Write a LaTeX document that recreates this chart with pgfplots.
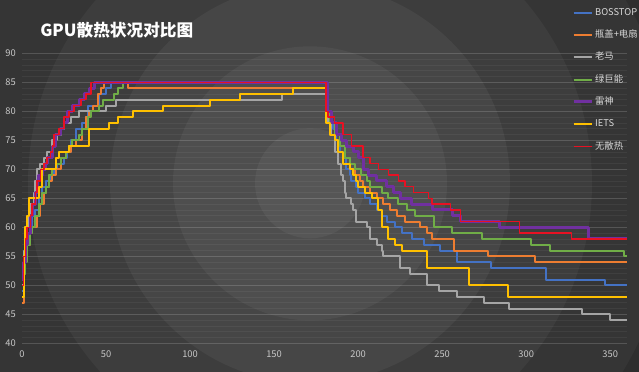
\documentclass[border=0pt]{standalone}
\usepackage{fontspec}
\setmainfont{Noto Sans CJK SC}
\usepackage{pgfplots}
\pgfplotsset{compat=1.18}
\definecolor{cBlue}{HTML}{4472C4}
\definecolor{cOrange}{HTML}{ED7D31}
\definecolor{cGray}{HTML}{A5A5A5}
\definecolor{cGreen}{HTML}{70AD47}
\definecolor{cPurple}{HTML}{7030A0}
\definecolor{cYellow}{HTML}{FFC000}
\definecolor{cRed}{HTML}{E81123}
\definecolor{tick}{HTML}{C8C8C8}
\definecolor{legtxt}{HTML}{D9D9D9}
\begin{document}
\begin{tikzpicture}
% background with concentric rings
\begin{scope}
\clip (-16.5pt,-20.8pt) rectangle (462.75pt,257.5pt);
\fill[fill={rgb,255:red,40;green,40;blue,40}] (-16.5pt,-20.8pt) rectangle (462.75pt,257.5pt);
\fill[fill={rgb,255:red,46;green,46;blue,46}] (216pt,120pt) circle (337.5pt);
\fill[fill={rgb,255:red,53;green,53;blue,53}] (216pt,120pt) circle (273.75pt);
\fill[fill={rgb,255:red,61;green,61;blue,61}] (216pt,120pt) circle (211.5pt);
\fill[fill={rgb,255:red,70;green,70;blue,70}] (216pt,120pt) circle (150pt);
\fill[fill={rgb,255:red,78;green,78;blue,78}] (216pt,120pt) circle (102.75pt);
\fill[fill={rgb,255:red,86;green,86;blue,86}] (216pt,120pt) circle (41.25pt);
\end{scope}
\node[anchor=west, inner sep=0pt, text=white, font=\fontsize{12.5}{14}\selectfont\bfseries] at (13.5pt,235pt) {GPU散热状况对比图};
\begin{axis}[
  at={(0pt,0pt)}, anchor=south west,
  scale only axis, width=453.75pt, height=217.5pt,
  xmin=0, xmax=360, ymin=40, ymax=90,
  axis line style={draw=none},
  tick style={draw=none},
  xtick={0,50,...,350}, ytick={40,45,...,90},
  ymajorgrids, major grid style={white, opacity=0.16, line width=0.6pt},
  minor y tick num=4, yminorgrids, minor grid style={white, opacity=0.05, line width=0.5pt},
  /pgf/number format/assume math mode=true,
  ticklabel style={font=\fontsize{7}{8}\selectfont, text=tick, inner sep=0pt},
  yticklabel style={xshift=-4.5pt},
  xticklabel style={yshift=-5pt},
  const plot,
  every axis plot/.append style={line width=1.5pt, line join=round},
  legend image code/.code={\draw[#1] (0pt,0pt) -- (13.5pt,0pt);},
  legend cell align=left,
  legend style={at={(0.909,1.1575)}, anchor=north west, draw=none, fill=none,
    font=\fontsize{7}{8}\selectfont, text=legtxt, inner sep=0pt,
    row sep=9.75pt, column sep=1.5pt,
    nodes={inner sep=0pt, text height=5.5pt, text depth=1.5pt}},
]
\addplot[cBlue] coordinates {(0,49)(1,54)(2,56)(3,58)(5,60)(6,62)(8,63)(10,65)(12,67)(14,68)(17,69)(19,70)(21,71)(25,72)(27,73)(29,75)(32,77)(36,78)(38,79)(39,81)(46,83)(50,84)(53,85)(180,85)(181,80)(183,78)(185,77)(187,75)(189,73)(191,72)(193,70)(195,69)(196,68)(199,67)(200,66)(204,65)(207,64)(211,63)(214,62)(217,61)(222,60)(226,59)(232,58)(239,57)(249,56)(259,54)(279,53)(312,51)(347,50)(360,50)};
\addlegendentry{BOSSTOP}
\addplot[cOrange] coordinates {(0,47)(1,52)(2,55)(3,57)(5,59)(6,60)(9,62)(11,64)(13,66)(14,67)(16,68)(18,69)(20,70)(23,72)(26,73)(29,74)(32,75)(36,77)(38,79)(40,80)(42,81)(45,83)(47,84)(49,85)(63,84)(180,84)(181,80)(183,78)(186,76)(189,74)(192,72)(195,70)(198,69)(201,68)(203,67)(207,66)(211,65)(215,64)(219,63)(223,62)(228,61)(237,60)(241,59)(244,58)(257,56)(277,55)(305,54)(360,54)};
\addlegendentry{瓶盖+电扇}
\addplot[cGray] coordinates {(0,50)(1,56)(2,58)(3,60)(4,62)(5,64)(7,66)(8,68)(9,70)(11,71)(13,72)(15,73)(18,75)(21,76)(23,77)(25,78)(29,79)(34,80)(50,81)(56,82)(155,83)(180,83)(181,80)(182,78)(184,76)(186,73)(188,71)(190,69)(191,68)(192,66)(193,65)(196,64)(197,63)(199,61)(205,60)(207,58)(211,57)(214,56)(215,55)(225,53)(231,52)(241,50)(248,49)(259,48)(275,47)(290,46)(333,45)(350,44)(360,44)};
\addlegendentry{老马}
\addplot[cGreen] coordinates {(0,48)(1,52)(2,54)(3,57)(5,59)(6,60)(8,62)(10,64)(12,66)(14,67)(16,69)(18,70)(20,71)(23,72)(26,73)(28,74)(30,75)(34,76)(36,77)(39,79)(41,80)(46,81)(48,82)(55,83)(57,84)(60,85)(180,85)(181,80)(183,78)(186,76)(189,74)(192,72)(195,71)(198,70)(202,69)(205,68)(207,67)(214,66)(218,65)(224,64)(229,63)(234,62)(245,60)(256,59)(274,58)(303,57)(314,56)(358,55)(360,55)};
\addlegendentry{绿巨能}
\addplot[cPurple, line width=2.2pt] coordinates {(0,51)(1,54)(2,57)(3,59)(5,62)(6,64)(8,66)(9,68)(10,69)(12,70)(14,71)(15,72)(18,74)(20,76)(23,77)(25,78)(27,80)(30,81)(34,82)(37,83)(40,84)(43,85)(180,85)(182,80)(184,78)(187,76)(190,75)(193,74)(197,73)(200,72)(203,70)(206,69)(211,68)(217,67)(221,66)(225,65)(232,64)(244,63)(256,62)(261,61)(284,60)(337,58)(360,58)};
\addlegendentry{雷神}
\addplot[cYellow] coordinates {(0,48)(1,55)(2,60)(3,62)(4,65)(10,67)(12,70)(20,72)(22,73)(28,74)(40,77)(52,78)(57,79)(66,80)(84,81)(112,82)(130,83)(161,84)(180,84)(181,78)(183,76)(186,75)(188,73)(191,71)(195,70)(197,69)(199,68)(200,67)(204,66)(208,65)(212,63)(214,60)(218,58)(222,57)(226,56)(241,53)(266,50)(289,48)(360,48)};
\addlegendentry{IETS}
\addplot[cRed, line width=1.1pt] coordinates {(0,50)(1,55)(2,58)(3,60)(5,62)(6,64)(8,66)(9,68)(11,70)(13,71)(15,72)(17,73)(18,74)(19,76)(22,77)(25,79)(28,80)(31,81)(35,82)(38,83)(41,85)(180,85)(181,80)(182,79)(186,78)(191,76)(196,74)(203,72)(207,71)(212,70)(218,69)(224,68)(228,67)(233,66)(242,65)(244,64)(255,63)(261,61)(296,59)(327,58)(360,58)};
\addlegendentry{无散热}
\end{axis}
\end{tikzpicture}
\end{document}
